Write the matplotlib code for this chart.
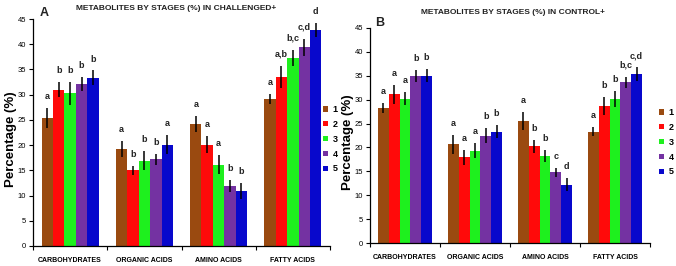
import matplotlib
matplotlib.use("Agg")
import matplotlib.pyplot as plt
import numpy as np

plt.rcParams['font.family'] = ['Liberation Sans', 'DejaVu Sans']

categories = ["CARBOHYDRATES", "ORGANIC ACIDS", "AMINO ACIDS", "FATTY ACIDS"]
stages = ["1", "2", "3", "4", "5"]

# Panel A: CHALLENGED+ (rows = stages, cols = categories)
a_vals = [
    [25.4, 19.3, 24.2, 29.2],
    [31.0, 15.0, 20.1, 33.5],
    [30.3, 16.9, 16.1, 37.3],
    [32.1, 17.2, 11.9, 39.4],
    [33.4, 20.1, 10.9, 42.8],
]
a_errs = [
    [2.0, 1.6, 1.6, 1.0],
    [1.5, 0.9, 1.7, 2.2],
    [2.3, 1.9, 1.9, 1.6],
    [1.4, 1.1, 1.2, 1.7],
    [1.4, 1.9, 1.6, 1.4],
]
a_letters = [
    ["a", "a", "a", "a"],
    ["b", "b", "a", "a,b"],
    ["b", "b", "a", "b,c"],
    ["b", "b", "b", "c,d"],
    ["b", "a", "b", "d"],
]

# Panel B: CONTROL+
b_vals = [
    [28.3, 20.7, 25.6, 23.3],
    [31.1, 17.9, 20.2, 28.7],
    [30.2, 19.3, 18.2, 30.1],
    [34.9, 22.5, 14.8, 33.6],
    [35.0, 23.3, 12.2, 35.4],
]
b_errs = [
    [1.0, 2.0, 1.9, 1.0],
    [2.0, 1.5, 1.4, 1.9],
    [1.4, 1.6, 1.2, 1.7],
    [1.3, 1.6, 1.0, 1.2],
    [1.4, 1.4, 1.4, 1.4],
]
b_letters = [
    ["a", "a", "a", "a"],
    ["a", "a", "b", "b"],
    ["a", "a", "b", "b"],
    ["b", "b", "c", "b,c"],
    ["b", "b", "d", "c,d"],
]

colors = ["#9A4A10", "#FF0A0A", "#1EF01E", "#7432A2", "#0808CC"]

W, H = 676, 266
fig = plt.figure(figsize=(W / 100, H / 100), dpi=100)


def panel(rect, vals, errs, letters, title, title_xy, tag, tag_xy, ylab_x, leg_xy):
    ax = fig.add_axes(rect)
    x = np.arange(len(categories))
    n = len(stages)
    bw = 0.77 / n
    bars = []
    for i in range(n):
        xs = x + (i - (n - 1) / 2) * bw
        b = ax.bar(xs, vals[i], bw, color=colors[i], label=stages[i],
                   yerr=errs[i], error_kw=dict(ecolor='black', elinewidth=1.1, capsize=0))
        bars.append(b)
        for xx, v, e, l in zip(xs, vals[i], errs[i], letters[i]):
            ax.annotate(l, (xx, v + e), xytext=(0, 5), textcoords='offset points',
                        ha='center', va='bottom', fontsize=6.5, fontweight='bold',
                        color='#222222', annotation_clip=False)
    ax.set_xlim(-0.5, len(categories) - 0.5)
    ax.set_ylim(0, 45)
    ax.set_yticks(np.arange(0, 46, 5))
    ax.set_xticks(x)
    ax.set_xticklabels(categories, fontsize=5, fontweight='bold')
    ax.set_xticks(np.arange(-0.5, len(categories), 1.0), minor=True)
    ax.tick_params(axis='x', which='major', length=0, pad=8)
    ax.tick_params(axis='x', which='minor', length=3, width=0.8, direction='out')
    ax.tick_params(axis='y', labelsize=5.5, length=3, width=0.8, pad=2)
    for s in ['top', 'right']:
        ax.spines[s].set_visible(False)
    for s in ['left', 'bottom']:
        ax.spines[s].set_linewidth(0.9)
    fig.text(title_xy[0] / W, 1 - title_xy[1] / H, title, ha='center', va='center',
             fontsize=6, fontweight='bold', color='#222222')
    fig.text(tag_xy[0] / W, 1 - tag_xy[1] / H, tag, ha='center', va='center',
             fontsize=9, fontweight='bold', color='#222222')
    ax.set_ylabel("Percentage (%)", fontsize=9.5, fontweight='bold')
    ax.yaxis.set_label_coords(ylab_x, 0.47)
    leg = ax.legend(handles=bars, loc='upper left',
                    bbox_to_anchor=(leg_xy[0] / W, 1 - leg_xy[1] / H),
                    bbox_transform=fig.transFigure, frameon=False,
                    fontsize=6.5, handlelength=0.55, handleheight=0.55,
                    handletextpad=0.5, labelspacing=0.65, borderpad=0, borderaxespad=0)
    for t in leg.get_texts():
        t.set_fontweight('bold')
    return ax


panel([33 / W, 1 - 246 / H, (330 - 33) / W, (246 - 19) / H], a_vals, a_errs, a_letters,
      "METABOLITES BY STAGES (%) IN CHALLENGED+", (176, 8), "A", (44, 13), -0.054, (323, 105))
panel([370 / W, 1 - 243 / H, (650 - 370) / W, (243 - 28) / H], b_vals, b_errs, b_letters,
      "METABOLITES BY STAGES (%) IN CONTROL+", (513, 13), "B", (380, 23), -0.057, (659, 108))

fig.savefig("out.png", dpi=100)
